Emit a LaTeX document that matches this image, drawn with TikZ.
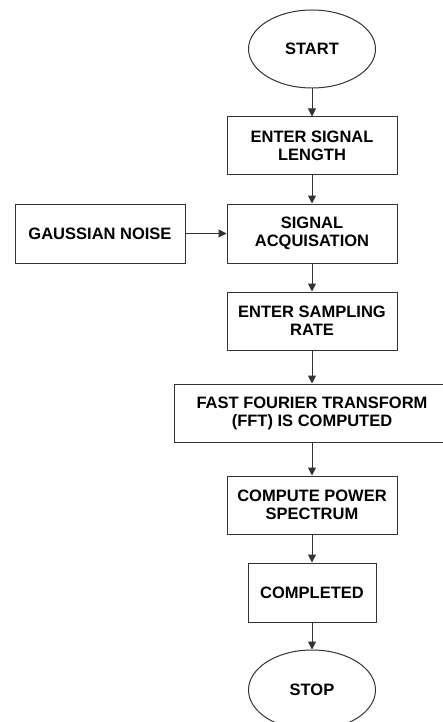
\documentclass[tikz,border=0pt]{standalone}
\usepackage{fontspec}
\setmainfont{Liberation Sans}
\usetikzlibrary{shapes.geometric,arrows.meta}
\begin{document}
\begin{tikzpicture}[x=1pt,y=-1pt,
  base/.style={draw=black!80, line width=1pt, inner sep=0pt, align=center,
    font=\fontsize{16.5}{18}\selectfont\bfseries},
  stepbox/.style={base, rectangle, minimum width=170pt, minimum height=58pt},
  term/.style={base, ellipse, minimum width=127pt, minimum height=78pt},
  arr/.style={draw=black!80, line width=1pt, -{Triangle[length=8pt,width=8pt]}}]
\useasboundingbox (0,0) rectangle (443,722);
\begin{scope}
\clip (0,0) rectangle (443,722);
\node[term] (start) at (312,49) {START};
\node[stepbox] (len) at (312,146) {ENTER SIGNAL\\LENGTH};
\node[stepbox, minimum height=59pt] (acq) at (312,233.5) {SIGNAL\\ACQUISATION};
\node[stepbox, minimum height=59pt] (noise) at (100,233.5) {GAUSSIAN NOISE};
\node[stepbox] (rate) at (312,321) {ENTER SAMPLING\\RATE};
\node[stepbox, minimum width=276pt] (fft) at (312,413) {FAST FOURIER TRANSFORM\\(FFT) IS COMPUTED};
\node[stepbox] (pow) at (312,505) {COMPUTE POWER\\SPECTRUM};
\node[stepbox, minimum width=128pt, minimum height=59pt] (done) at (312,592.5) {COMPLETED};
\node[term, minimum height=80pt] (stop) at (312,690) {STOP};
\draw[arr] (start) -- (len);
\draw[arr] (len) -- (acq);
\draw[arr] (noise) -- (acq);
\draw[arr] (acq) -- (rate);
\draw[arr] (rate) -- (fft);
\draw[arr] (fft) -- (pow);
\draw[arr] (pow) -- (done);
\draw[arr] (done) -- (stop);
\end{scope}
\end{tikzpicture}
\end{document}
